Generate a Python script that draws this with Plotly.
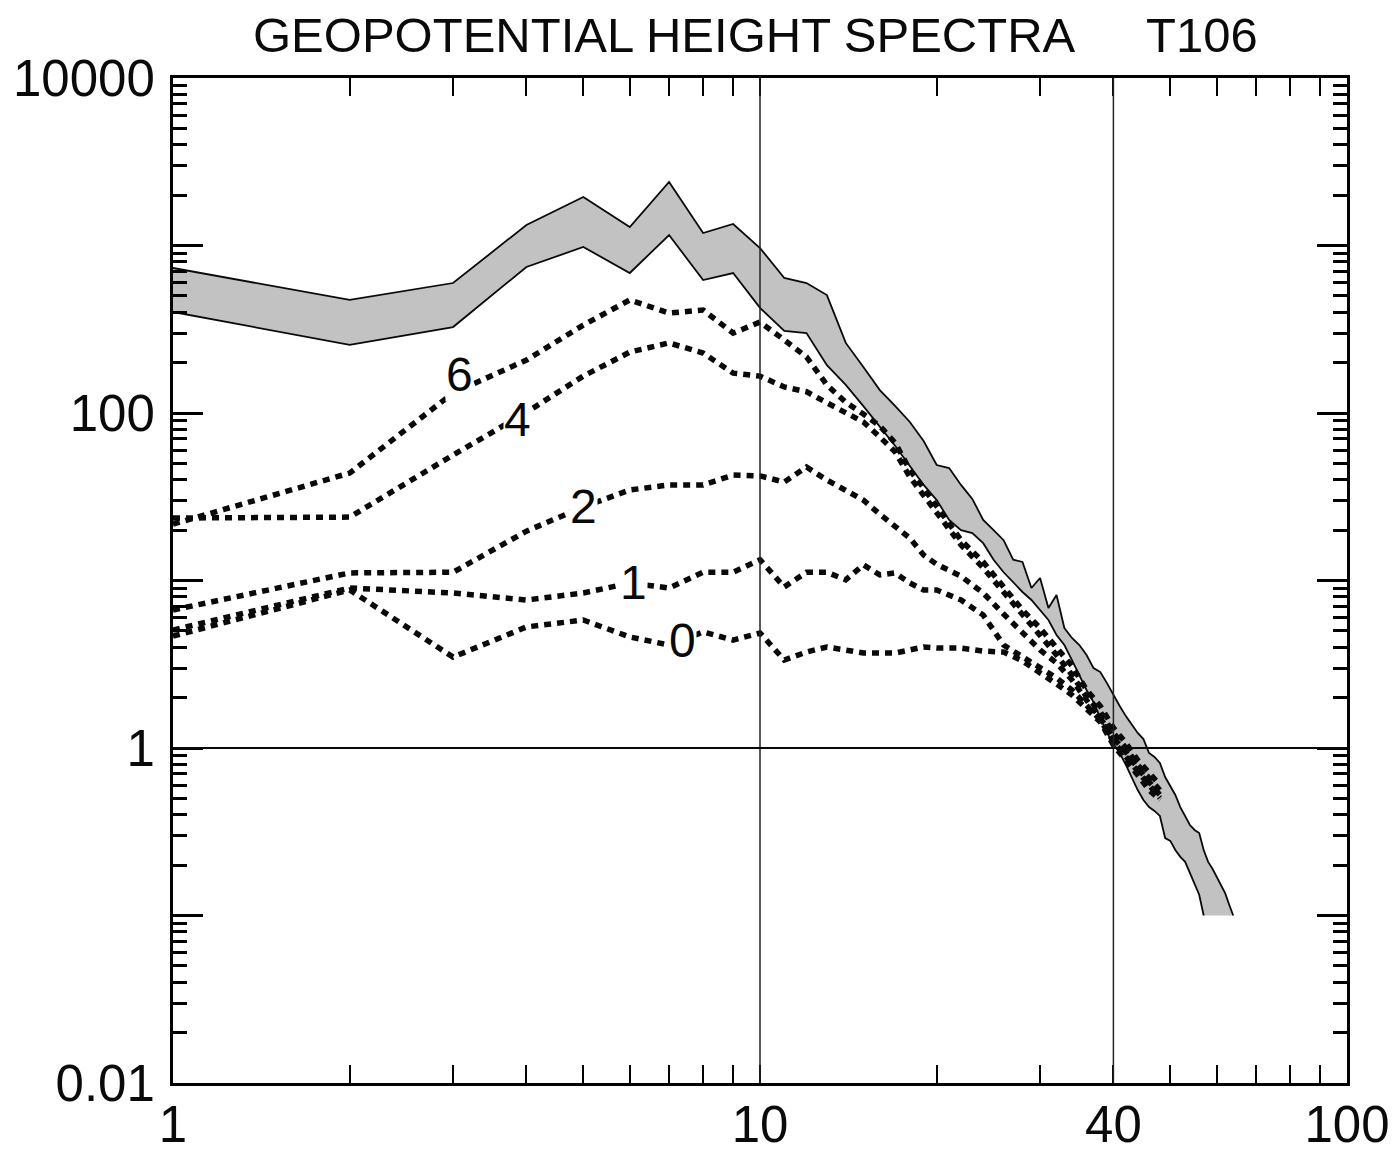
import numpy as np
import plotly.graph_objects as go

# ---------------- data ----------------
# shaded band: upper and lower edges (wavenumber n, spectral value)
BAND_N_UPPER = list(range(1, 65))
BAND_UPPER = [734, 473, 597, 1326, 1948, 1290, 2394, 1187, 1344, 966,
              640, 597, 506, 262, 188, 137, 110, 88.4, 68.1, 48.9,
              46.9, 37.2, 30.7, 23.0, 20.0, 17.4, 13.3, 12.9, 9.02, 10.35,
              6.85, 8.19, 5.20, 4.54, 4.12, 3.59, 3.00, 2.84, 2.44, 2.07,
              1.78, 1.55, 1.37, 1.23, 1.13, 0.933, 0.884, 0.814, 0.671, 0.593,
              0.524, 0.444, 0.393, 0.347, 0.324, 0.311, 0.246, 0.209, 0.190, 0.170,
              0.152, 0.136, 0.116, 0.1]
BAND_N_LOWER = list(range(1, 58))
BAND_LOWER = [401, 255, 326, 744, 980, 685, 1155, 622, 685, 424,
              309, 300, 193, 147, 110, 82.5, 63.5, 48.3, 37.2, 30.2,
              23.0, 20.0, 19.2, 16.7, 13.3, 11.2, 9.79, 8.54, 7.65, 6.67,
              5.81, 4.73, 4.12, 3.35, 2.73, 2.22, 1.88, 1.51, 1.23, 1.06,
              0.933, 0.792, 0.662, 0.561, 0.489, 0.444, 0.421, 0.393, 0.290, 0.279,
              0.246, 0.224, 0.209, 0.179, 0.152, 0.133, 0.1]

# dotted curves
CURVE_N = list(range(1, 21)) + list(range(22, 49, 2))
CURVE_6 = [21.7, 43.8, 131.6, 207, 335, 473, 395, 412, 300, 349,
           273, 216, 147, 116, 98.6, 83.6, 66.2, 45.7, 35.7, 27.5,
           17.4, 12.9, 9.02, 6.67, 5.20, 3.95, 3.09, 2.22, 1.78, 1.32,
           1.07, 0.848, 0.719, 0.601]
CURVE_4 = [23.6, 23.9, 56.1, 101, 166, 231, 262, 228, 173, 166,
           143, 134, 115, 101, 88.4, 71.9, 58.5, 41.5, 32.4, 25.3,
           16.3, 11.9, 8.54, 6.22, 4.73, 3.59, 2.73, 2.02, 1.64, 1.23,
           1.00, 0.792, 0.662, 0.561]
CURVE_2 = [6.67, 11.1, 11.2, 19.7, 27.5, 34.7, 37.2, 37.2, 42.6, 42.1,
           38.7, 47.6, 39.8, 34.7, 30.2, 24.9, 20.9, 17.9, 14.2, 12.5,
           10.6, 8.42, 6.31, 4.93, 3.85, 3.22, 2.55, 1.93, 1.51, 1.15,
           0.946, 0.760, 0.627, 0.524]
CURVE_1 = [5.06, 9.02, 8.42, 7.65, 8.42, 9.66, 9.02, 11.2, 11.2, 13.3,
           9.15, 11.2, 11.2, 10.1, 12.4, 10.8, 11.1, 9.66, 8.78, 8.78,
           7.65, 6.22, 4.12, 3.49, 3.00, 2.62, 2.22, 1.81, 1.47, 1.09,
           0.884, 0.719, 0.601, 0.503]
CURVE_0 = [4.66, 8.78, 3.49, 5.28, 5.81, 4.60, 4.12, 4.93, 4.41, 4.86,
           3.35, 3.74, 4.01, 3.85, 3.69, 3.69, 3.69, 3.85, 4.01, 3.95,
           3.95, 3.79, 3.74, 3.31, 2.84, 2.41, 2.07, 1.73, 1.43, 1.04,
           0.848, 0.690, 0.561, 0.489]

CURVE_NAMES = ["6", "4", "2", "1", "0"]
CURVES = [CURVE_6, CURVE_4, CURVE_2, CURVE_1, CURVE_0]
LABEL_N = [3.08, 3.86, 5.0, 6.08, 7.39]
LABEL_VAL = [169, 91, 27.5, 9.7, 4.4]

# axis ticks
X_TICKS = [1, 10, 40, 100]
X_TICKTEXT = ["1", "10", "40", "100"]
X_MINOR = [2, 3, 4, 5, 6, 7, 8, 9, 20, 30, 50, 60, 70, 80, 90]
Y_TICKS = [0.01, 0.1, 1, 10, 100, 1000, 10000]
Y_TICKTEXT = ["0.01", "", "1", "", "100", "", "10000"]
Y_MINOR = [m * d for d in [0.01, 0.1, 1, 10, 100, 1000] for m in range(2, 10)]
X_REF_LINES = [10, 40]
Y_REF_LINES = [1]

TITLE_MAIN = "GEOPOTENTIAL HEIGHT SPECTRA"
TITLE_RIGHT = "T106"

FONT = "Liberation Sans, Arial, Helvetica, sans-serif"
INK = "#0a0a0a"

# ---------------- figure ----------------
fig = go.Figure()

fig.add_trace(go.Scatter(
    x=BAND_N_UPPER + BAND_N_LOWER[::-1],
    y=BAND_UPPER + BAND_LOWER[::-1],
    mode="lines", fill="toself", fillcolor="#c2c2c2",
    line=dict(width=0, color="rgba(0,0,0,0)"), hoverinfo="skip", showlegend=False))
fig.add_trace(go.Scatter(x=BAND_N_UPPER, y=BAND_UPPER, mode="lines",
                         line=dict(color=INK, width=1.8), showlegend=False))
fig.add_trace(go.Scatter(x=BAND_N_LOWER, y=BAND_LOWER, mode="lines",
                         line=dict(color=INK, width=1.8), showlegend=False))

for name, vals in zip(CURVE_NAMES, CURVES):
    fig.add_trace(go.Scatter(x=CURVE_N, y=vals, mode="lines", name=name,
                             line=dict(color=INK, width=5.5, dash="7px,6px"),
                             showlegend=False))

for xv in X_REF_LINES:
    fig.add_vline(x=xv, line=dict(color="#222222", width=1.5))
for yv in Y_REF_LINES:
    fig.add_hline(y=yv, line=dict(color=INK, width=2))

for name, xn, yv in zip(CURVE_NAMES, LABEL_N, LABEL_VAL):
    fig.add_annotation(x=np.log10(xn), y=np.log10(yv), text=name, showarrow=False,
                       font=dict(family=FONT, size=48, color=INK),
                       bgcolor="white", borderpad=0, xanchor="center", yanchor="middle")

fig.add_annotation(x=0.4185, y=1.043, xref="paper", yref="paper", text=TITLE_MAIN,
                   showarrow=False, xanchor="center", yanchor="middle",
                   font=dict(family=FONT, size=49, color=INK))
fig.add_annotation(x=0.8765, y=1.043, xref="paper", yref="paper", text=TITLE_RIGHT,
                   showarrow=False, xanchor="center", yanchor="middle",
                   font=dict(family=FONT, size=49, color=INK))

fig.update_xaxes(
    type="log", range=[0, 2], automargin=False,
    showline=True, linecolor="black", linewidth=3,
    mirror="ticks", ticks="inside", ticklen=18, tickwidth=2, tickcolor="black",
    tickmode="array", tickvals=X_TICKS, ticktext=X_TICKTEXT,
    tickfont=dict(family=FONT, size=51, color=INK), ticklabelstandoff=-5,
    showgrid=False, zeroline=False,
    minor=dict(tickmode="array", tickvals=X_MINOR, ticks="inside", ticklen=18,
               tickwidth=2, tickcolor="black", showgrid=False))
fig.update_yaxes(
    type="log", range=[-2, 4], automargin=False,
    showline=True, linecolor="black", linewidth=3,
    mirror="ticks", ticks="inside", ticklen=30, tickwidth=3, tickcolor="black",
    tickmode="array", tickvals=Y_TICKS, ticktext=Y_TICKTEXT,
    tickfont=dict(family=FONT, size=51, color=INK), ticklabelstandoff=5,
    showgrid=False, zeroline=False,
    minor=dict(tickmode="array", tickvals=Y_MINOR, ticks="inside", ticklen=14,
               tickwidth=3, tickcolor="black", showgrid=False))

fig.update_layout(
    width=1392, height=1149,
    margin=dict(l=173, r=45, t=78, b=66, autoexpand=False),
    paper_bgcolor="white", plot_bgcolor="white",
    showlegend=False,
)

fig.write_html("out.html",
               config={"displayModeBar": False},
               post_script="document.body.style.margin='0px';"
                           "document.body.style.overflow='hidden';")
